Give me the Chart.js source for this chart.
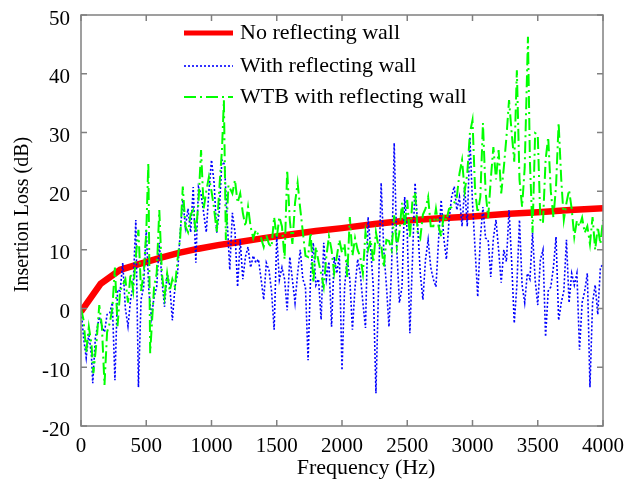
<!DOCTYPE html>
<html>
<head>
<meta charset="utf-8">
<script src="https://cdn.jsdelivr.net/npm/chart.js@4/dist/chart.umd.min.js"></script>
<style>
  html, body { margin: 0; padding: 0; background: #fff; }
  #wrap { width: 637px; height: 482px; }
</style>
</head>
<body>
<div id="wrap"><canvas id="ilChart"></canvas></div>
<script>
// ----------------------------
// Data: [frequency Hz, insertion loss dB]
// ----------------------------
const seriesNames = ["No reflecting wall", "With reflecting wall", "WTB with reflecting wall"];
const xTitle = "Frequency (Hz)";
const yTitle = "Insertion Loss (dB)";
const freqTicks = [0, 500, 1000, 1500, 2000, 2500, 3000, 3500, 4000];
const lossTicks = [-20, -10, 0, 10, 20, 30, 40, 50];

const noWall = [[0,-0.5],[150,4.2],[300,6.6],[450,7.6],[600,8.6],[750,9.5],[900,10.2],[1050,10.8],
  [1200,11.3],[1400,12],[1600,12.6],[1800,13.2],[2000,13.7],[2250,14.4],[2500,15],[2750,15.4],
  [3000,15.7],[3250,16.1],[3500,16.4],[3750,16.8],[4000,17.1]];

const withWall = [[0,0],[20,-5],[40,-8.4],[60,-4.2],[80,-8],[90,-12.7],[110,-5],[140,-1.4],[160,-3],
  [180,-4],[200,-1],[220,-0.8],[240,1],[260,-12.2],[280,3.2],[300,3],[320,7.8],[340,0],[360,-3],
  [380,1.5],[400,4],[420,15.1],[440,-13.4],[460,1.5],[480,3.7],[500,13.4],[520,3],[540,-1.5],
  [560,2],[580,3.7],[600,11.2],[620,4.8],[640,0.3],[660,6],[680,4],[700,-2],[720,3.7],[740,6],
  [760,12.9],[780,18.5],[800,13.9],[820,17],[840,13],[860,20.7],[880,7.8],[900,20.7],[920,19.5],
  [940,16.3],[960,13],[980,20],[1000,25.3],[1020,21.4],[1040,12.9],[1060,16.8],[1080,25.3],
  [1100,24.5],[1120,15],[1140,6.6],[1160,16.3],[1180,13],[1200,3.7],[1220,11.7],[1240,5],
  [1260,8.8],[1280,10.5],[1300,7],[1320,9],[1340,7.8],[1360,8.4],[1380,5],[1400,1.5],[1420,7.8],
  [1440,6.6],[1460,3],[1480,-3.6],[1500,12.3],[1520,4.9],[1540,7],[1560,5],[1580,-0.3],[1600,8.8],
  [1620,4.9],[1640,1],[1660,6],[1680,10],[1700,5],[1720,3.7],[1740,-8.8],[1760,6],[1780,11.2],
  [1800,4],[1820,5],[1840,-1.9],[1860,11.2],[1880,5],[1900,8],[1920,-3.1],[1940,8.8],[1960,6],
  [1980,9],[2000,-10.5],[2020,3.7],[2040,8.4],[2060,5],[2080,-3.6],[2100,3.7],[2120,8.4],[2140,6],
  [2160,1],[2180,-3.3],[2200,15.6],[2220,10],[2240,3.7],[2260,-14.4],[2280,3.7],[2300,21.4],
  [2320,10],[2340,4],[2360,-3.1],[2380,7],[2400,28.2],[2420,10],[2440,1],[2460,3.7],[2480,19],
  [2500,13],[2520,-4.2],[2540,8.4],[2560,21.4],[2580,14],[2600,6],[2620,1.5],[2640,8.4],
  [2660,11.7],[2680,7],[2700,5],[2720,3.7],[2740,11.7],[2760,18.5],[2780,12],[2800,8.4],[2820,15],
  [2840,19],[2860,20.8],[2880,16.8],[2900,19],[2920,14],[2940,20.8],[2960,14],[2980,29.2],
  [3000,18],[3020,10],[3040,2],[3060,12],[3080,17.3],[3100,12],[3120,11.7],[3140,5.4],[3160,12],
  [3180,15.1],[3200,10],[3220,4.4],[3240,10],[3260,8],[3280,16.8],[3300,8],[3320,-2.5],[3340,4],
  [3360,15.1],[3380,4],[3400,1],[3420,6],[3440,5],[3460,12.9],[3480,4.9],[3500,0.6],[3520,8.3],
  [3540,10],[3560,-4.8],[3580,3],[3600,3.7],[3620,7],[3640,12.2],[3660,-2],[3680,1],[3700,3],
  [3720,11.7],[3740,1],[3760,6],[3780,4],[3800,6],[3820,-7],[3840,1],[3860,3],[3880,6],
  [3900,-13.4],[3920,1],[3940,4],[3960,-1],[3980,7],[4000,7.5]];

const wtbWall = [[0,0],[20,-2],[40,-7.4],[60,-3.1],[80,-6],[95,-11],[120,-5.4],[140,0.6],[160,-3],
  [180,-13],[200,-4],[220,-2.5],[240,0],[260,7],[280,-3],[300,3],[320,4],[340,5],[360,1],[380,6],
  [400,3],[420,8.8],[440,13.4],[460,3],[480,6],[500,13],[516,24.8],[530,-7.6],[560,3.7],[580,6],
  [600,16.8],[620,6],[640,2],[660,6],[680,3],[700,5],[720,3.7],[740,8.4],[760,12],[780,20.8],
  [800,14],[820,13],[840,16],[860,16.8],[880,13],[900,18],[920,27],[940,17],[960,20],[980,22.4],
  [1000,20],[1020,17],[1040,13],[1060,20.5],[1080,27],[1095,35.5],[1110,11.7],[1130,21],
  [1160,19.6],[1180,21.9],[1200,18],[1220,19.6],[1240,16.3],[1260,14],[1280,17.3],[1300,13.9],
  [1320,12],[1340,13.4],[1360,12.5],[1380,12],[1400,10.5],[1420,12.5],[1440,11],[1460,10.5],
  [1480,15.6],[1500,12],[1520,15.6],[1540,14],[1560,8.4],[1580,23.6],[1600,15],[1620,11],
  [1640,18],[1660,21.4],[1680,17],[1700,13],[1720,9],[1740,8.8],[1760,13],[1780,4.4],[1800,10.5],
  [1820,8],[1840,6],[1860,3.7],[1880,8.8],[1900,12.3],[1920,10],[1940,6],[1960,8.8],[1980,11.7],
  [2000,9.5],[2020,11],[2040,5.4],[2060,15.6],[2080,9],[2100,12],[2120,10],[2140,8.8],[2160,6],
  [2180,13],[2200,10],[2220,11.7],[2240,7.8],[2260,13],[2280,10.5],[2300,11],[2320,7],[2340,11.7],
  [2360,11.5],[2380,10],[2400,15.9],[2420,10.5],[2440,13],[2460,18],[2480,13.9],[2500,18.5],
  [2520,12],[2540,18.5],[2560,19.8],[2580,13],[2600,12],[2620,16],[2640,17],[2660,19],[2680,14],
  [2700,14],[2720,17],[2740,14],[2760,12.3],[2780,16],[2800,15],[2820,17],[2840,17.3],[2860,18],
  [2880,19],[2900,23],[2920,25.3],[2940,20],[2960,23],[2980,29.9],[3000,32.1],[3020,20],
  [3040,16.3],[3060,19],[3080,31.6],[3100,20],[3120,15.4],[3140,22],[3160,27.5],[3180,22],
  [3200,27],[3220,19.6],[3240,24],[3260,29.2],[3280,35.5],[3300,30],[3320,25],[3340,40.6],
  [3360,22],[3380,17.3],[3400,24],[3425,46.3],[3440,25],[3460,12.9],[3480,29.9],[3500,29.6],
  [3520,15.1],[3540,14.5],[3560,25.3],[3580,29.2],[3600,20],[3620,15.5],[3640,20.8],[3660,31.6],
  [3680,22],[3700,15.1],[3720,18],[3740,20.2],[3760,17],[3780,12.2],[3800,15],[3820,14],
  [3840,15.5],[3860,12.9],[3880,14],[3900,11],[3920,15.6],[3940,10],[3960,13.9],[3980,11],
  [4000,15.1]];

const seriesColors = ["#ff0000", "#0000ff", "#00ff00"];
const seriesWidths = [6.5, 1.6, 2];
const seriesDashes = [[], [2, 2], [12, 4, 2, 4]];

const serif = "'Liberation Serif', 'Times New Roman', serif";
const toPoints = arr => arr.map(p => ({ x: p[0], y: p[1] }));

// ----------------------------
// Frame with inward ticks on all four sides, plus axis titles
// ----------------------------
const framePlugin = {
  id: "frame",
  afterDatasetsDraw(chart) {
    const { ctx, chartArea: a, scales } = chart;
    ctx.save();
    ctx.strokeStyle = "#808080";
    ctx.lineWidth = 1.5;
    ctx.beginPath();
    freqTicks.forEach(v => {
      const px = scales.x.getPixelForValue(v);
      ctx.moveTo(px, a.bottom); ctx.lineTo(px, a.bottom - 6);
      ctx.moveTo(px, a.top); ctx.lineTo(px, a.top + 6);
    });
    lossTicks.forEach(v => {
      const py = scales.y.getPixelForValue(v);
      ctx.moveTo(a.left, py); ctx.lineTo(a.left + 6, py);
      ctx.moveTo(a.right, py); ctx.lineTo(a.right - 6, py);
    });
    ctx.stroke();
    ctx.strokeRect(a.left, a.top, a.right - a.left, a.bottom - a.top);

    // axis titles (the original sits a little off-centre)
    ctx.fillStyle = "#000";
    ctx.textAlign = "center";
    ctx.textBaseline = "middle";
    ctx.font = "22px " + serif;
    ctx.fillText(xTitle, (a.left + a.right) / 2 + 24, 468);
    ctx.translate(23, (a.top + a.bottom) / 2 - 6);
    ctx.rotate(-Math.PI / 2);
    ctx.font = "20px " + serif;
    ctx.fillText(yTitle, 0, 0);
    ctx.restore();
  }
};

// ----------------------------
// Legend inside the plot, no box
// ----------------------------
const legendPlugin = {
  id: "insideLegend",
  afterDraw(chart) {
    const ctx = chart.ctx;
    const rows = [33, 66, 97];
    ctx.save();
    seriesNames.forEach((name, i) => {
      ctx.beginPath();
      ctx.strokeStyle = seriesColors[i];
      ctx.lineWidth = i === 0 ? 5 : seriesWidths[i];
      ctx.setLineDash(seriesDashes[i]);
      ctx.moveTo(184, rows[i]);
      ctx.lineTo(233, rows[i]);
      ctx.stroke();
      ctx.setLineDash([]);
      ctx.fillStyle = "#000";
      ctx.font = "22px " + serif;
      ctx.textBaseline = "middle";
      ctx.textAlign = "left";
      ctx.fillText(name, 240, rows[i]);
    });
    ctx.restore();
  }
};

const datasets = [noWall, withWall, wtbWall].map((arr, i) => ({
  label: seriesNames[i],
  data: toPoints(arr),
  borderColor: seriesColors[i],
  borderWidth: seriesWidths[i],
  borderDash: seriesDashes[i],
  pointRadius: 0,
  tension: 0,
  fill: false,
  order: 2 - i
}));

new Chart(document.getElementById("ilChart"), {
  type: "line",
  data: { datasets: datasets },
  options: {
    responsive: true,
    maintainAspectRatio: false,
    animation: false,
    layout: { padding: { left: 0, right: 34, top: 15, bottom: 0 } },
    plugins: { legend: { display: false }, tooltip: { enabled: false } },
    scales: {
      x: {
        type: "linear",
        min: 0, max: 4000,
        afterBuildTicks: s => { s.ticks = freqTicks.map(v => ({ value: v })); },
        afterFit: s => { s.height = 56; s.paddingLeft = 0; s.paddingRight = 0; },
        grid: { display: false, drawTicks: false },
        border: { display: false },
        ticks: { color: "#000", font: { family: serif, size: 21 }, padding: 8, maxRotation: 0,
                 callback: v => String(v) }
      },
      y: {
        min: -20, max: 50,
        afterBuildTicks: s => { s.ticks = lossTicks.map(v => ({ value: v })); },
        afterFit: s => { s.width = 81; s.paddingTop = 0; s.paddingBottom = 0; },
        grid: { display: false, drawTicks: false },
        border: { display: false },
        ticks: { color: "#000", font: { family: serif, size: 21 }, padding: 11, labelOffset: 4,
                 callback: v => String(v) }
      }
    }
  },
  plugins: [framePlugin, legendPlugin]
});
</script>
</body>
</html>
